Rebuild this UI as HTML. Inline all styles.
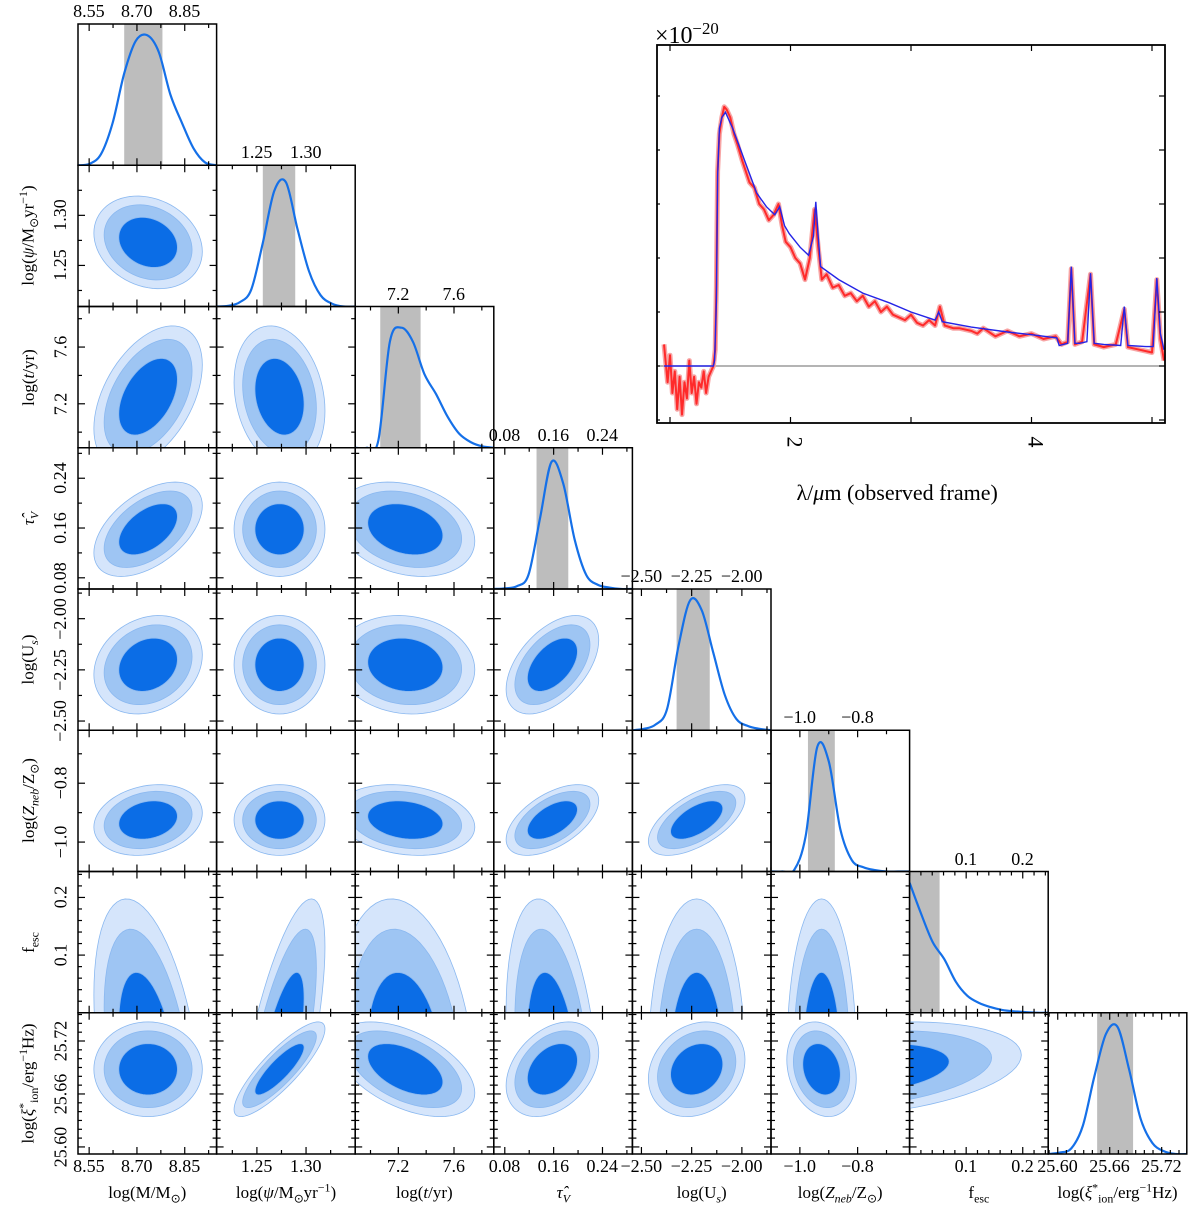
<!DOCTYPE html>
<html><head><meta charset="utf-8">
<style>
body{margin:0;background:#fff;}
#wrap{position:relative;width:1200px;height:1213px;overflow:hidden;font-family:"Liberation Serif",serif;color:#000;}
.lbl{position:absolute;white-space:nowrap;font-size:18px;line-height:1;}
.ttl{position:absolute;white-space:nowrap;font-size:17px;line-height:1;}
sub,sup{font-size:70%;line-height:0;}
</style></head>
<body>
<div id="wrap">
<svg id="svg" width="1200" height="1213"></svg>
</div>
<script>
// ---------- corner plot data ----------
const paramNames = ["logM","logPsi","logT","tauV","logU","logZ","fesc","logXi"];
const paramMin = [8.515, 1.209, 6.89, 0.062, -2.545, -1.10, 0.0, 25.589];
const paramMax = [8.95, 1.35, 7.886, 0.289, -1.855, -0.62, 0.245, 25.749];
const paramYMin = [8.515, 1.209, 6.89, 0.062, -2.545, -1.10, 0.0, 25.592];
const paramYMax = [8.95, 1.35, 7.886, 0.289, -1.855, -0.62, 0.245, 25.752];
const paramTicks = [[8.55,8.70,8.85],[1.25,1.30],[7.2,7.6],[0.08,0.16,0.24],[-2.50,-2.25,-2.00],[-1.0,-0.8],[0.1,0.2],[25.60,25.66,25.72]];
const paramTickLabels = [["8.55","8.70","8.85"],["1.25","1.30"],["7.2","7.6"],["0.08","0.16","0.24"],["−2.50","−2.25","−2.00"],["−1.0","−0.8"],["0.1","0.2"],["25.60","25.66","25.72"]];
const minorStep = [0.075,0.025,0.2,0.04,0.125,0.1,0.02,0.01];
const bandLo = [8.66, 1.256, 7.07, 0.132, -2.325, -0.972, 0.0, 25.6455];
const bandHi = [8.78, 1.289, 7.36, 0.184, -2.16, -0.879, 0.053, 25.687];
const dens0 = [0,0.01,0.08,0.3,0.65,0.88,0.92,0.8,0.5,0.3,0.12,0.02,0];
const dens1 = [0,0.005,0.03,0.12,0.45,0.82,0.88,0.55,0.25,0.08,0.02,0,0];
const dens2 = [0,0,0.05,0.75,0.85,0.75,0.52,0.38,0.22,0.1,0.04,0.01,0];
const dens3 = [0,0.005,0.02,0.1,0.5,0.9,0.75,0.35,0.1,0.03,0.01,0,0];
const dens4 = [0,0.01,0.04,0.15,0.6,0.92,0.85,0.55,0.25,0.08,0.03,0.01,0];
const dens5 = [0,0,0.01,0.25,0.88,0.78,0.3,0.08,0.03,0.01,0,0,0];
const dens6 = [0.92,0.7,0.5,0.38,0.22,0.12,0.07,0.04,0.02,0.01,0.005,0,0];
const dens7 = [0,0.01,0.04,0.2,0.55,0.85,0.9,0.6,0.25,0.08,0.02,0,0];
const densities = [dens0,dens1,dens2,dens3,dens4,dens5,dens6,dens7];
const mean2d = [8.735, 1.273, 7.25, 0.158, -2.225, -0.925, -0.08, 25.688];
const sd2d = [0.092, 0.025, 0.27, 0.041, 0.13, 0.065, 0.15, 0.029];
// correlations (y param = row, x param = col)
const rhoRow1 = [-0.2];
const rhoRow2 = [0.45,-0.2];
const rhoRow3 = [0.5,0.0,-0.25];
const rhoRow4 = [0.2,0.0,-0.1,0.5];
const rhoRow5 = [0.2,0.0,-0.2,0.55,0.6];
const rhoRow6 = [-0.4,0.7,-0.2,-0.3,0.0,0.0];
const rhoRow7 = [0.0,0.85,-0.5,0.35,0.2,-0.2,0.3];
const rhos = [[],rhoRow1,rhoRow2,rhoRow3,rhoRow4,rhoRow5,rhoRow6,rhoRow7];
const contourLevels = [1.85,1.5,1.0];

// ---------- spectrum data ----------
const modelLam = [0.95,1.36,1.37,1.385,1.395,1.41,1.43,1.46,1.52,1.63,1.72,1.8,1.87,1.91,1.95,1.99,2.08,2.15,2.19,2.21,2.23,2.25,2.4,2.6,2.82,3.0,3.2,3.23,3.26,3.5,3.8,4.0,4.21,4.23,4.30,4.33,4.36,4.40,4.46,4.49,4.52,4.6,4.74,4.77,4.80,4.95,5.01,5.04,5.07,5.1];
const modelFlux = [0,0,0.1,1.2,3.5,4.4,4.6,4.7,4.4,3.74,3.2,2.95,2.8,2.95,2.6,2.45,2.2,2.05,2.4,3.04,2.4,1.84,1.6,1.35,1.17,1.0,0.85,1.0,0.82,0.72,0.63,0.58,0.52,0.38,0.42,1.84,0.42,0.42,0.45,1.72,0.42,0.4,0.38,1.1,0.38,0.36,0.36,1.63,0.6,0.3];
const obsLam = [0.95,0.98,1.0,1.02,1.04,1.06,1.08,1.1,1.12,1.14,1.16,1.18,1.2,1.22,1.24,1.26,1.28,1.3,1.32,1.34,1.36,1.375,1.385,1.395,1.41,1.43,1.45,1.47,1.5,1.53,1.56,1.6,1.63,1.66,1.7,1.74,1.78,1.82,1.86,1.9,1.93,1.96,2.0,2.04,2.08,2.12,2.16,2.2,2.23,2.26,2.3,2.35,2.4,2.45,2.5,2.55,2.6,2.65,2.7,2.75,2.8,2.85,2.9,2.95,3.0,3.05,3.1,3.15,3.2,3.24,3.28,3.35,3.4,3.5,3.55,3.6,3.7,3.8,3.9,4.0,4.1,4.2,4.25,4.3,4.33,4.36,4.42,4.49,4.52,4.6,4.7,4.77,4.8,4.9,5.0,5.04,5.07,5.1];
const obsFlux = [0.4,-0.3,0.2,-0.5,-0.1,-0.8,-0.2,-0.9,-0.3,-0.6,0.1,-0.5,-0.2,-0.7,-0.3,-0.4,-0.1,-0.5,-0.2,-0.1,0.0,0.3,1.5,3.6,4.3,4.6,4.8,4.75,4.6,4.3,4.1,3.8,3.6,3.4,3.3,3.0,2.9,2.7,2.8,3.0,2.6,2.3,2.2,2.0,1.9,1.6,2.0,2.9,2.2,1.6,1.7,1.45,1.5,1.3,1.35,1.2,1.3,1.1,1.2,1.0,1.1,0.95,0.9,0.85,0.95,0.8,0.75,0.85,0.75,1.1,0.75,0.7,0.7,0.65,0.6,0.7,0.55,0.65,0.55,0.6,0.5,0.55,0.4,0.45,1.8,0.4,0.45,1.7,0.4,0.35,0.4,1.05,0.35,0.3,0.25,1.6,0.5,0.1];
const specXTicks = [1,2,3,4,5];
const specXTickLabels = ["","2","","4",""];
const specYTicks = [-1,0,1,2,3,4,5];

const NS="http://www.w3.org/2000/svg";
const svg=document.getElementById('svg');
const wrap=document.getElementById('wrap');
function mk(tag,attrs,parent){const e=document.createElementNS(NS,tag);for(const k in attrs)e.setAttribute(k,attrs[k]);(parent||svg).appendChild(e);return e;}
const X0=78, Y0=24, PW=138.6, PH=141.25, N=8;
function colX(j){return X0+j*PW;}
function rowY(i){return Y0+i*PH;}
function sx(p,j,v){return colX(j)+(v-paramMin[p])/(paramMax[p]-paramMin[p])*PW;}
function sy(p,i,v){return rowY(i)+PH-(v-paramYMin[p])/(paramYMax[p]-paramYMin[p])*PH;}
function crPath(pts){let d="M"+pts[0][0].toFixed(2)+","+pts[0][1].toFixed(2);
 for(let k=0;k<pts.length-1;k++){const p0=pts[Math.max(0,k-1)],p1=pts[k],p2=pts[k+1],p3=pts[Math.min(pts.length-1,k+2)];
  const c1=[p1[0]+(p2[0]-p0[0])/6,p1[1]+(p2[1]-p0[1])/6],c2=[p2[0]-(p3[0]-p1[0])/6,p2[1]-(p3[1]-p1[1])/6];
  d+="C"+c1[0].toFixed(2)+","+c1[1].toFixed(2)+" "+c2[0].toFixed(2)+","+c2[1].toFixed(2)+" "+p2[0].toFixed(2)+","+p2[1].toFixed(2);}
 return d;}
function html(cls,txt,x,y,anchor,rot,name){const d=document.createElement('div');d.className=cls;d.innerHTML=txt;
 
 
 wrap.appendChild(d);const w=d.offsetWidth,h=d.offsetHeight;
 d.style.left=(x-w/2)+'px';d.style.top=(y-h/2)+'px';if(rot)d.style.transform='rotate('+rot+'deg)';return d;}
const defs=mk('defs',{});
function ticksOn(p,i,j,axis,g){
 const lo=axis==='x'?paramMin[p]:paramYMin[p],hi=axis==='x'?paramMax[p]:paramYMax[p];const st=minorStep[p];
 const start=Math.ceil((lo-1e-9)/st)*st;
 for(let v=start;v<=hi+1e-9;v+=st){
  const major=paramTicks[p].some(t=>Math.abs(t-v)<st*0.01);
  const L=major?7:4;
  if(axis==='x'){const x=sx(p,j,v);
   mk('line',{x1:x,x2:x,y1:rowY(i),y2:rowY(i)+L,stroke:'#000','stroke-width':1.2},g);
   mk('line',{x1:x,x2:x,y1:rowY(i)+PH,y2:rowY(i)+PH-L,stroke:'#000','stroke-width':1.2},g);}
  else{const y=sy(p,i,v);
   mk('line',{x1:colX(j),x2:colX(j)+L,y1:y,y2:y,stroke:'#000','stroke-width':1.2},g);
   mk('line',{x1:colX(j)+PW,x2:colX(j)+PW-L,y1:y,y2:y,stroke:'#000','stroke-width':1.2},g);}
 }}
const titles=["log(M/M<sub>⊙</sub>)","log(<i>ψ</i>/M<sub>⊙</sub>yr<sup>−1</sup>)","log(<i>t</i>/yr)","<i>τ̂<sub>V</sub></i>","log(U<sub><i>s</i></sub>)","log(<i>Z<sub>neb</sub></i>/Z<sub>⊙</sub>)","f<sub>esc</sub>","log(<i>ξ</i><sup>*</sup><sub>ion</sub>/erg<sup>−1</sup>Hz)"];

for(let i=0;i<N;i++){for(let j=0;j<=i;j++){
 const g=mk('g',{});
 
 
 const cid='clip'+i+'_'+j;
 const cp=mk('clipPath',{id:cid},defs);mk('rect',{x:colX(j),y:rowY(i),width:PW,height:PH},cp);
 if(i===j){
  const p=i;
  const band=mk('rect',{x:sx(p,j,bandLo[p]),y:rowY(i),width:sx(p,j,bandHi[p])-sx(p,j,bandLo[p]),height:PH,fill:'#bdbdbd','clip-path':'url(#'+cid+')'},g);
  
  
  const dv=densities[p];const pts=dv.map((v,k)=>[colX(j)+k/(dv.length-1)*PW,rowY(i)+PH-v*PH]);
  const c=mk('path',{d:crPath(pts),fill:'none',stroke:'#1570e8','stroke-width':2.2,'clip-path':'url(#'+cid+')'},g);
  
  
  ticksOn(p,i,j,'x',g);
  if(i<N-1){paramTicks[p].forEach((t,k)=>{html('lbl',paramTickLabels[p][k],sx(p,j,t),rowY(i)-13,'',0,'top-tick-label');});}
 } else {
  const px=j,py=i;const rho=rhos[i][j];
  const cxp=sx(px,j,mean2d[px]),cyp=sy(py,i,mean2d[py]);
  const sxp=sd2d[px]/(paramMax[px]-paramMin[px])*PW,syp=sd2d[py]/(paramYMax[py]-paramYMin[py])*PH;
  const fills=['#d5e5fb','#9ec5f3','#0b6de6'];
  contourLevels.forEach((r,li)=>{
   let d="";
   for(let k=0;k<=72;k++){const th=k/72*2*Math.PI;const u=Math.cos(th)*r,w=Math.sin(th)*r;
    const x=cxp+sxp*u,y=cyp-(rho*syp*u+syp*Math.sqrt(1-rho*rho)*w);
    d+=(k?"L":"M")+x.toFixed(2)+","+y.toFixed(2);}
   const e=mk('path',{d:d+"Z",fill:fills[li],stroke:'#8ab8f0','stroke-width':0.8,'clip-path':'url(#'+cid+')'},g);
   
   
  });
  ticksOn(px,i,j,'x',g);ticksOn(py,i,j,'y',g);
  if(j===0){paramTicks[py].forEach((t,k)=>{html('lbl',paramTickLabels[py][k],60,sy(py,i,t),'',-90,'y-tick-label');});
   html('ttl',titles[py],28,rowY(i)+PH/2,'',-90,'y-axis-title');}
 }
 const fr=mk('rect',{x:colX(j),y:rowY(i),width:PW,height:PH,fill:'none',stroke:'#000','stroke-width':1.5},g);
 
 
 if(i===N-1){paramTicks[j].forEach((t,k)=>{html('lbl',paramTickLabels[j][k],sx(j,j,t),rowY(N)+12,'',0,'x-tick-label');});
  html('ttl',titles[j],colX(j)+PW/2,1192,'',0,'x-axis-title');}
}}

// ---------- spectrum inset ----------
const SX0=657,SX1=1165,SY0=45,SY1=423;
function lx(l){return 670+(l-1)*120.5;}
function fy(f){return 366-f*54;}
const sg=mk('g',{});


const scp=mk('clipPath',{id:'specclip'},defs);
mk('rect',{x:SX0,y:SY0,width:SX1-SX0,height:SY1-SY0},scp);
const zl=mk('line',{x1:SX0,x2:SX1,y1:fy(0),y2:fy(0),stroke:'#888','stroke-width':1.2},sg);


const obsPts=obsLam.map((l,k)=>lx(l).toFixed(1)+","+fy(obsFlux[k]).toFixed(1)).join(" ");
const oe=mk('polyline',{points:obsPts,fill:'none',stroke:'#f7a5a5','stroke-width':5,'stroke-linejoin':'round','clip-path':'url(#specclip)'},sg);


const ol=mk('polyline',{points:obsPts,fill:'none',stroke:'#ff2a2a','stroke-width':2,'stroke-linejoin':'round','clip-path':'url(#specclip)'},sg);


const mPts=modelLam.map((l,k)=>lx(l).toFixed(1)+","+fy(modelFlux[k]).toFixed(1)).join(" ");
const ml=mk('polyline',{points:mPts,fill:'none',stroke:'#2424e6','stroke-width':1.4,'clip-path':'url(#specclip)'},sg);


specXTicks.forEach((t,k)=>{const x=lx(t);
 mk('line',{x1:x,x2:x,y1:SY0,y2:SY0+6,stroke:'#000','stroke-width':1.2},sg);
 mk('line',{x1:x,x2:x,y1:SY1,y2:SY1-6,stroke:'#000','stroke-width':1.2},sg);
 if(specXTickLabels[k])html('lbl',specXTickLabels[k],x+3,440,'',90,'spectrum-x-tick-label').style.fontSize='22px';});
specYTicks.forEach(t=>{const y=fy(t);
 mk('line',{x1:SX1,x2:SX1-6,y1:y,y2:y,stroke:'#000','stroke-width':1.2},sg);
 mk('line',{x1:SX0,x2:SX0+3,y1:y,y2:y,stroke:'#000','stroke-width':1.2},sg);});
const sf=mk('rect',{x:SX0,y:SY0,width:SX1-SX0,height:SY1-SY0,fill:'none',stroke:'#000','stroke-width':1.8},sg);


const sc=html('ttl','×10<sup>−20</sup>',700,32,'',0,'spectrum-y-scale');sc.style.fontSize='24px';sc.style.left='655px';
const st=html('ttl','λ/<i>μ</i>m (observed frame)',897,490,'',0,'spectrum-x-axis-title');st.style.fontSize='22px';
const w2=st.offsetWidth;st.style.left=(897-w2/2)+'px';
</script>
</body></html>
